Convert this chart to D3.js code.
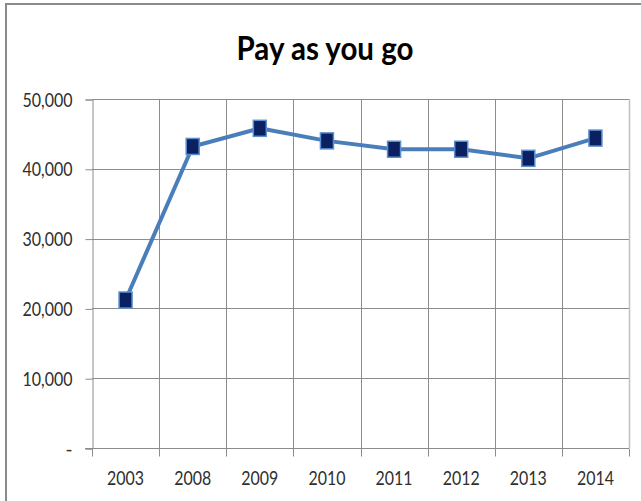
<!DOCTYPE html>
<html><head><meta charset="utf-8">
<script src="https://cdn.jsdelivr.net/npm/d3@7"></script>
<style>body{margin:0;background:#fff;}</style>
</head><body>
<script>
const categories = ["2003","2008","2009","2010","2011","2012","2013","2014"];
const values = [21200, 43200, 45800, 44000, 42800, 42800, 41500, 44400];
const yTicks = [0, 10000, 20000, 30000, 40000, 50000];
const title = "Pay as you go";

const W = 641, H = 501;
const svg = d3.select("body").append("svg").attr("width", W).attr("height", H);
svg.append("rect").attr("width", W).attr("height", H).attr("fill", "#fff");
// outer chart border
svg.append("rect").attr("x", 6).attr("y", 4).attr("width", 660).attr("height", 520)
  .attr("fill", "none").attr("stroke", "#8a8a8a").attr("stroke-width", 2);

const pL = 92, pR = 629, pT = 99, pB = 448;
const x = d3.scaleBand().domain(categories).range([pL, pR]);
const y = d3.scaleLinear().domain([0, 50000]).range([pB, pT]);

svg.append("text").attr("x", 325).attr("y", 60).attr("text-anchor", "middle")
  .attr("font-family", "Lato, 'Open Sans', sans-serif").attr("font-weight", "bold")
  .attr("font-size", 33).attr("fill", "#000")
  .attr("textLength", 177).attr("lengthAdjust", "spacingAndGlyphs").text(title);

// horizontal gridlines
svg.append("g").selectAll("line").data(yTicks.filter(d => d > 0)).join("line")
  .attr("x1", pL).attr("x2", pR).attr("y1", d => Math.round(y(d)) + 0.5).attr("y2", d => Math.round(y(d)) + 0.5)
  .attr("stroke", "#8c8c8c").attr("stroke-width", 1);
// vertical gridlines at category boundaries
const bounds = categories.map(c => x(c)).concat([pR]);
svg.append("g").selectAll("line").data(bounds.slice(1, -1)).join("line")
  .attr("x1", d => Math.round(d) + 0.5).attr("x2", d => Math.round(d) + 0.5).attr("y1", pT).attr("y2", pB)
  .attr("stroke", "#8c8c8c").attr("stroke-width", 1);
// right border lighter
svg.append("line").attr("x1", pR + 0.5).attr("x2", pR + 0.5).attr("y1", pT).attr("y2", pB)
  .attr("stroke", "#c0c0c0").attr("stroke-width", 1.5);

// y axis
const yAxis = d3.axisLeft(y).tickValues(yTicks).tickSize(7).tickPadding(13)
  .tickFormat(d => d === 0 ? "-" : d3.format(",")(d));
const gy = svg.append("g").attr("transform", `translate(${pL + 0.5},0.5)`).call(yAxis);
gy.select(".domain").attr("stroke", "#8c8c8c");
gy.selectAll(".tick line").attr("stroke", "#8c8c8c");
gy.selectAll(".tick text").attr("font-family", "Lato, sans-serif").attr("font-size", 19)
  .attr("fill", "#2e2e2e").attr("dy", "0.35em")
  .each(function(d){ if (d !== 0) d3.select(this).attr("textLength", 50).attr("lengthAdjust", "spacingAndGlyphs"); });

// x axis
const gx = svg.append("g").attr("transform", `translate(0,${pB + 0.5})`);
gx.append("line").attr("x1", pL - 7).attr("x2", pR).attr("y1", 0).attr("y2", 0).attr("stroke", "#8c8c8c");
gx.selectAll("line.tk").data(bounds).join("line").attr("class", "tk")
  .attr("x1", d => Math.round(d) + 0.5).attr("x2", d => Math.round(d) + 0.5).attr("y1", 0).attr("y2", 8)
  .attr("stroke", "#8c8c8c");
gx.selectAll("text").data(categories).join("text")
  .attr("x", d => x(d) + x.bandwidth() / 2).attr("y", 36.5).attr("text-anchor", "middle")
  .attr("font-family", "Lato, sans-serif").attr("font-size", 19).attr("fill", "#2e2e2e")
  .attr("textLength", 37).attr("lengthAdjust", "spacingAndGlyphs").text(d => d);

// line
const cx = c => x(c) + x.bandwidth() / 2;
svg.append("path").datum(values)
  .attr("d", d3.line().x((d, i) => cx(categories[i])).y(d => y(d)))
  .attr("fill", "none").attr("stroke", "#4a7ebb").attr("stroke-width", 4).attr("stroke-linejoin", "round");

// markers
svg.append("g").selectAll("rect").data(values).join("rect")
  .attr("x", (d, i) => cx(categories[i]) - 6.5).attr("y", d => y(d) - 8)
  .attr("width", 13).attr("height", 16)
  .attr("fill", "#0a2060").attr("stroke", "#5b8fcf").attr("stroke-width", 1.5);
</script>
</body></html>
